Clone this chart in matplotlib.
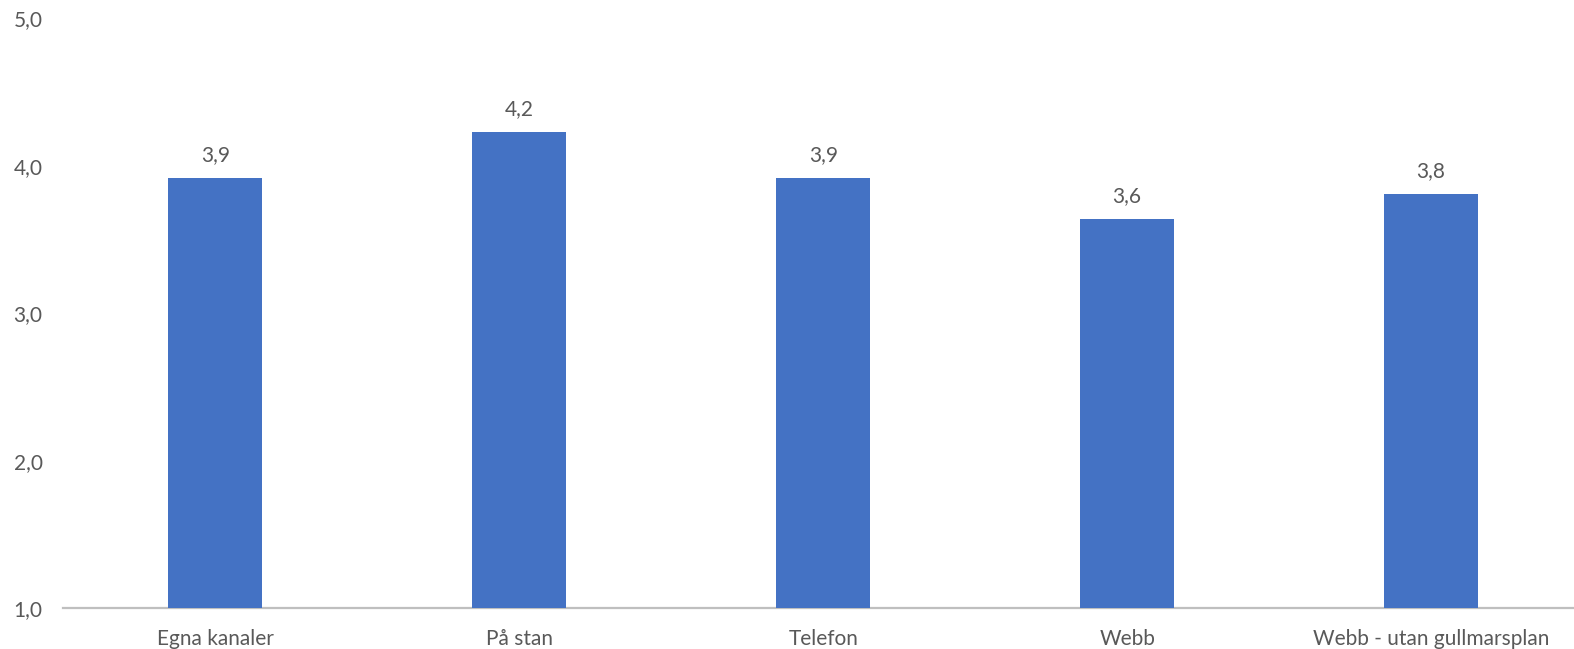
import matplotlib.pyplot as plt
import matplotlib.ticker as mtick

# Data
categories = ['Egna kanaler', 'På stan', 'Telefon', 'Webb', 'Webb - utan gullmarsplan']
values = [3.92, 4.23, 3.92, 3.64, 3.81]

bar_color = '#4472c4'
text_color = '#595959'

plt.rcParams['font.family'] = ['Lato', 'DejaVu Sans']

fig = plt.figure(figsize=(15.74, 6.49), dpi=100)
ax = fig.add_axes([0.0403, 0.0632, 0.9654, 0.9083])

x = range(len(categories))
bars = ax.bar(x, values, width=0.31, color=bar_color, linewidth=0)

# Value labels with comma decimal
for xi, v in zip(x, values):
    ax.annotate(f'{v:.1f}'.replace('.', ','), (xi, v), xytext=(0, 9),
                textcoords='offset points', ha='center', va='bottom',
                fontsize=15, color=text_color)

ax.set_ylim(1, 5)
ax.set_xlim(-0.5, len(categories) - 0.5)
ax.set_yticks([1, 2, 3, 4, 5])
ax.yaxis.set_major_formatter(mtick.FuncFormatter(lambda v, p: f'{v:.1f}'.replace('.', ',')))
ax.set_xticks(list(x))
ax.set_xticklabels(categories)

for s in ['top', 'right', 'left']:
    ax.spines[s].set_visible(False)
ax.spines['bottom'].set_color('#bfbfbf')
ax.spines['bottom'].set_linewidth(1.6)
ax.spines['bottom'].set_zorder(0)

ax.tick_params(axis='both', length=0, labelsize=15, colors=text_color)
ax.tick_params(axis='x', pad=15)
ax.tick_params(axis='y', pad=15)

fig.savefig('out.png', dpi=100)
plt.close()
